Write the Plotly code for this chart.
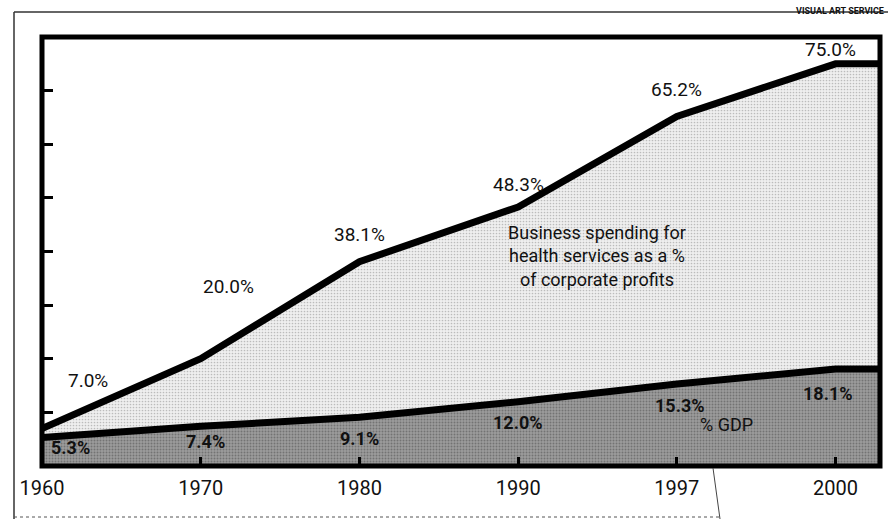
import plotly.graph_objects as go

# ---- data ----
years = ["1960", "1970", "1980", "1990", "1997", "2000"]
profits_pct = [7.0, 20.0, 38.1, 48.3, 65.2, 75.0]   # business health spending as % of corporate profits
gdp_pct = [5.3, 7.4, 9.1, 12.0, 15.3, 18.1]          # % GDP
profit_labels = ["7.0%", "20.0%", "38.1%", "48.3%", "65.2%", "75.0%"]
gdp_labels = ["5.3%", "7.4%", "9.1%", "12.0%", "15.3%", "18.1%"]

# ---- layout geometry (pixels) ----
W, H = 888, 519
L, R, T, B = 42, 880, 37, 466
XMAX = 5.28
YMAX = 80

def px(x):
    return (x - L) / (R - L)

def py(y):
    return (B - y) / (B - T)

idx = list(range(len(years)))
xs = idx + [XMAX]
up = profits_pct + [profits_pct[-1]]
lo = gdp_pct + [gdp_pct[-1]]

FONT = "Roboto, Lato, sans-serif"

fig = go.Figure()
fig.add_trace(go.Scatter(
    x=xs, y=lo, mode="lines", line=dict(width=0), fill="tozeroy",
    fillcolor="#8e8e8e",
    fillpattern=dict(shape=".", bgcolor="#9c9c9c", fgcolor="#4a4a4a", size=3, solidity=0.35, fillmode="overlay"),
    hoverinfo="skip", showlegend=False))
fig.add_trace(go.Scatter(
    x=xs, y=up, mode="lines", line=dict(width=0), fill="tonexty",
    fillcolor="#e6e6e6",
    fillpattern=dict(shape=".", bgcolor="#efefef", fgcolor="#8a8a8a", size=3, solidity=0.25, fillmode="overlay"),
    hoverinfo="skip", showlegend=False))
fig.add_trace(go.Scatter(x=xs, y=lo, mode="lines", line=dict(color="black", width=7),
                         hoverinfo="skip", showlegend=False))
fig.add_trace(go.Scatter(x=xs, y=up, mode="lines", line=dict(color="black", width=7),
                         hoverinfo="skip", showlegend=False))

annotations = []
up_off = [(46, 48), (28, 72), (0, 27), (0, 22), (0, 27), (-5, 14)]
lo_off = [(28, -10), (5, -15), (0, -21), (0, -21), (3, -22), (-8, -25)]
for i in idx:
    annotations.append(dict(x=i, y=profits_pct[i], xref="x", yref="y", text=profit_labels[i],
                            showarrow=False, xshift=up_off[i][0], yshift=up_off[i][1],
                            font=dict(family=FONT, size=19, color="#111")))
    annotations.append(dict(x=i, y=gdp_pct[i], xref="x", yref="y", text="<b>" + gdp_labels[i] + "</b>",
                            showarrow=False, xshift=lo_off[i][0], yshift=lo_off[i][1],
                            font=dict(family=FONT, size=18, color="#111")))

annotations.append(dict(x=px(688), y=py(256), xref="paper", yref="paper",
                        text="Business spending for<br>health services as a %<br>of corporate profits",
                        showarrow=False, align="center",
                        font=dict(family=FONT, size=18, color="#111")))
annotations.append(dict(x=px(755), y=py(437), xref="paper", yref="paper", text="% GDP",
                        showarrow=False, font=dict(family=FONT, size=18, color="#111")))
annotations.append(dict(x=px(886), y=py(4), xref="paper", yref="paper", text="<b>VISUAL ART SERVICE</b>",
                        showarrow=False, xanchor="right",
                        font=dict(family=FONT, size=9, color="#111")))

shapes = [
    # main thick frame
    dict(type="rect", xref="paper", yref="paper", x0=0, y0=0, x1=1, y1=1,
         line=dict(color="black", width=5), layer="above"),
    # outer thin frame lines
    dict(type="line", xref="paper", yref="paper", x0=px(14), y0=py(12), x1=px(888), y1=py(12),
         line=dict(color="#333", width=1.5)),
    dict(type="line", xref="paper", yref="paper", x0=px(14), y0=py(12), x1=px(14), y1=py(519),
         line=dict(color="#333", width=1.5)),
    dict(type="line", xref="paper", yref="paper", x0=px(14), y0=py(517), x1=px(720), y1=py(517),
         line=dict(color="#555", width=1, dash="dot")),
    dict(type="line", xref="paper", yref="paper", x0=px(713), y0=py(468), x1=px(720), y1=py(519),
         line=dict(color="#444", width=1)),
]

fig.update_layout(
    width=W, height=H,
    margin=dict(l=L, r=W - R, t=T, b=H - B),
    paper_bgcolor="white", plot_bgcolor="white",
    annotations=annotations, shapes=shapes,
    xaxis=dict(range=[0, XMAX], tickmode="array", tickvals=idx, ticktext=years,
               ticks="inside", ticklen=9, tickwidth=3, tickcolor="black",
               showgrid=False, zeroline=False, showline=False,
               tickfont=dict(family=FONT, size=20, color="#111"), ticklabelstandoff=8),
    yaxis=dict(range=[0, YMAX], tickmode="array", tickvals=[10, 20, 30, 40, 50, 60, 70],
               ticks="inside", ticklen=11, tickwidth=3, tickcolor="black",
               showticklabels=False, showgrid=False, zeroline=False, showline=False),
)

fig.write_html("out.html")
